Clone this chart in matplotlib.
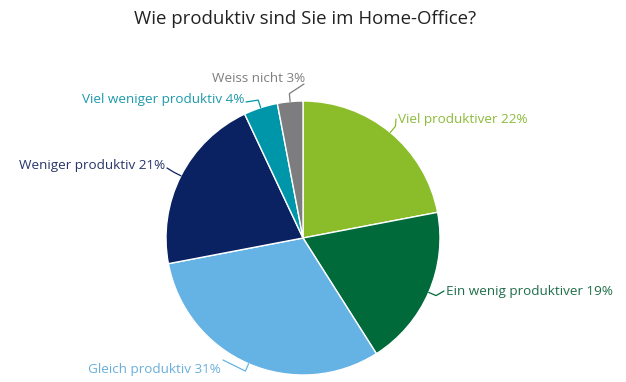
import numpy as np
import matplotlib
matplotlib.use("Agg")
import matplotlib.pyplot as plt

categories = ["Viel produktiver", "Ein wenig produktiver", "Gleich produktiv",
              "Weniger produktiv", "Viel weniger produktiv", "Weiss nicht"]
values = [22, 19, 31, 21, 4, 3]
colors = ["#8bbd2b", "#006a3a", "#65b3e5", "#0b2262", "#0096aa", "#7d7d80"]
label_colors = ["#8dbb3a", "#1f6e48", "#6aafdc", "#28356a", "#1d9aac", "#7f7f82"]
title = "Wie produktiv sind Sie im Home-Office?"

W, H = 626, 382
fig = plt.figure(figsize=(W / 100, H / 100), dpi=100)
ax = fig.add_axes([0, 0, 1, 1])

cx, cy, r = 303, H - 238, 137
wedges, _ = ax.pie(values, colors=colors, startangle=90, counterclock=False,
                   center=(cx, cy), radius=r, frame=True,
                   wedgeprops=dict(edgecolor="white", linewidth=1))
ax.set_xlim(0, W)
ax.set_ylim(0, H)
ax.set_aspect("equal")
ax.axis("off")

# label layout (pixel positions in image coords, y downward) and alignment
label_pos = [(398, 120, "left"), (446, 292, "left"), (221, 370, "right"),
             (165, 166, "right"), (244, 99, "right"), (305, 78, "right")]
anchor_pt = [(396, 119), (444, 291), (223, 360), (167, 168), (246, 102), (304, 84)]

for w, v, c, lc, lab, (tx, ty, ha), (axp, ayp) in zip(wedges, values, colors, label_colors,
                                                      categories, label_pos, anchor_pt):
    ang = np.deg2rad((w.theta1 + w.theta2) / 2)
    ex, ey = cx + r * np.cos(ang), cy + r * np.sin(ang)
    bx, by = cx + (r + 8) * np.cos(ang), cy + (r + 8) * np.sin(ang)
    ax.plot([ex, bx, axp], [ey, by, H - ayp], color=c, lw=0.9, solid_capstyle="round")
    ax.text(tx, H - ty, f"{lab} {v}%", ha=ha, va="center", color=lc,
            fontsize=9.7, family="Open Sans")

ax.text(305, H - 19, title, ha="center", va="center", fontsize=13.4,
        family="Open Sans", color="#222222")

fig.savefig("out.png", dpi=100)
